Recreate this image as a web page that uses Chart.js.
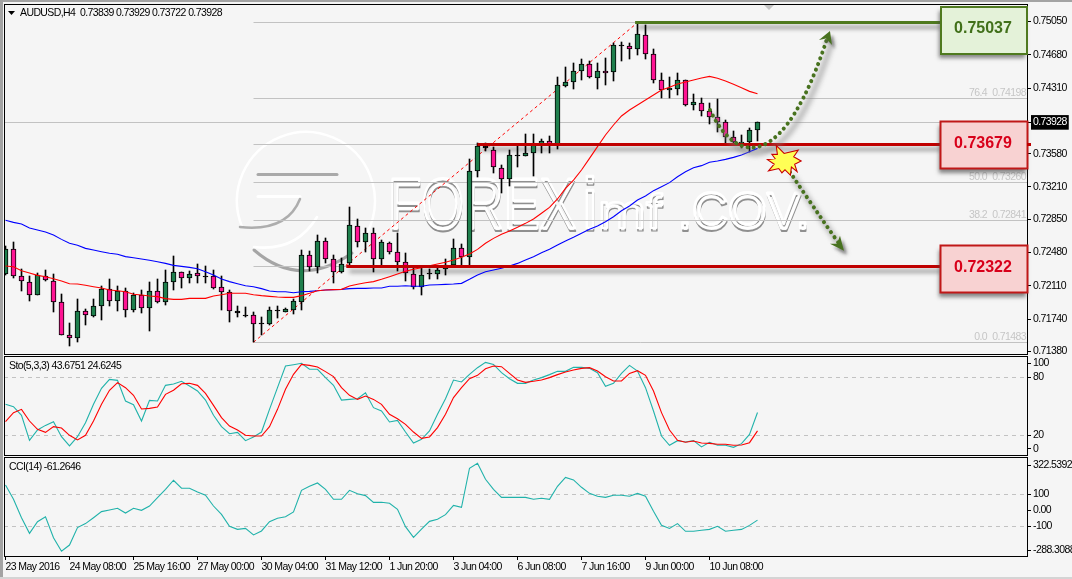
<!DOCTYPE html>
<html><head><meta charset="utf-8">
<style>
html,body{margin:0;padding:0;background:#f5f5f5;width:1072px;height:579px;overflow:hidden}
#w{position:relative;width:1072px;height:579px}
canvas{position:absolute;left:0;top:0}
#el{position:absolute;left:0;top:0;width:3px;height:579px;background:#a3a3a3}
#et{position:absolute;left:0;top:0;width:1072px;height:2px;background:#a3a3a3}
#eb{position:absolute;left:0;top:577px;width:1072px;height:2px;background:#d4d4d4}
</style>
<script src="https://cdn.jsdelivr.net/npm/chart.js@4"></script>
</head><body><div id="w"><div id="el"></div><div id="et"></div><div id="eb"></div>
<canvas id="c1" width="1072" height="579"></canvas>
<canvas id="c2" width="1072" height="579"></canvas>
<canvas id="c3" width="1072" height="579"></canvas>
</div>
<script>
const symbol = 'AUDUSD,H4';
const opens = [.72238,.72516,.72216,.72157,.72012,.72223,.72168,.71927,.71560,.71526,
.71827,.71778,.71882,.72071,.71938,.72049,.71838,.72005,.71860,.72049,
.71931,.72149,.72260,.72194,.72249,.72220,.72216,.72094,.72038,.71812,
.71786,.71782,.71686,.71690,.71827,.71823,.71845,.71934,.72449,.72323,
.72605,.72405,.72268,.72360,.72772,.72594,.72702,.72405,.72590,.72483,
.72379,.72246,.72094,.72238,.72246,.72294,.72346,.72527,.72427,.73384,
.73662,.73617,.73424,.73295,.73550,.73558,.73584,.73684,.73717,.73684,
.74336,.74373,.74503,.74574,.74425,.74496,.74485,.74777,.74774,.74740,
.74896,.74685,.74396,.74284,.74296,.74396,.74125,.74140,.74051,.73984,
.73936,.73762,.73695,.73714,.73839];
const highs = [.72553,.72594,.72294,.72220,.72249,.72283,.72238,.72019,.71697,.71964,
.71853,.71960,.72108,.72186,.72108,.72082,.72027,.72064,.72149,.72186,
.72283,.72442,.72268,.72275,.72353,.72331,.72283,.72223,.72064,.71886,
.71875,.71819,.71767,.71871,.71886,.71860,.71968,.72509,.72498,.72676,
.72638,.72449,.72416,.72987,.72853,.72750,.72750,.72620,.72594,.72702,
.72472,.72323,.72305,.72294,.72323,.72405,.72631,.72572,.73521,.73695,
.73695,.73654,.73454,.73621,.73665,.73795,.73795,.73739,.73777,.74429,
.74544,.74588,.74629,.74611,.74592,.74644,.74807,.74818,.74807,.75037,
.75011,.74740,.74477,.74429,.74473,.74399,.74244,.74199,.74140,.74188,
.73954,.73832,.73788,.73862,.73929];
const lows = [.72227,.72194,.72056,.71945,.72005,.72164,.71823,.71560,.71445,.71489,
.71675,.71767,.71730,.71886,.71830,.71767,.71823,.71812,.71612,.71916,
.71901,.72064,.72086,.72142,.72142,.72142,.72079,.71842,.71712,.71767,
.71767,.71483,.71564,.71675,.71749,.71816,.71797,.71842,.72275,.72257,
.72360,.72145,.72249,.72323,.72546,.72490,.72268,.72342,.72464,.72279,
.72164,.72071,.72012,.72186,.72183,.72231,.72323,.72331,.72342,.73317,
.73613,.73369,.73146,.73224,.73435,.73558,.73335,.73591,.73591,.73628,
.74325,.74303,.74399,.74425,.74303,.74344,.74388,.74614,.74633,.74677,
.74633,.74362,.74203,.74203,.74233,.74114,.74066,.73999,.73910,.73825,
.73695,.73695,.73639,.73595,.73722];
const closes = [.72516,.72216,.72160,.72005,.72234,.72171,.71927,.71560,.71526,.71827,
.71782,.71882,.72075,.71938,.72049,.71838,.72008,.71860,.72049,.71931,
.72149,.72260,.72194,.72238,.72216,.72216,.72082,.72038,.71827,.71827,
.71778,.71682,.71693,.71838,.71838,.71849,.71938,.72449,.72323,.72605,
.72405,.72268,.72349,.72783,.72594,.72702,.72405,.72594,.72483,.72379,
.72249,.72094,.72234,.72249,.72290,.72346,.72527,.72427,.73384,.73662,
.73647,.73428,.73295,.73562,.73562,.73591,.73684,.73717,.73684,.74340,
.74373,.74496,.74574,.74429,.74496,.74473,.74785,.74785,.74740,.74907,
.74685,.74396,.74292,.74307,.74396,.74125,.74151,.74051,.73984,.73936,
.73762,.73714,.73714,.73840,.73928];
const maSlow = [.72839,.72816,.72798,.72753,.72731,.72709,.72676,.72627,.72583,.72561,
.72527,.72509,.72490,.72472,.72461,.72435,.72423,.72409,.72394,.72379,
.72360,.72338,.72327,.72316,.72301,.72268,.72231,.72186,.72157,.72134,
.72112,.72101,.72079,.72053,.72045,.72045,.72034,.72045,.72049,.72056,
.72064,.72068,.72071,.72079,.72082,.72082,.72086,.72086,.72105,.72105,
.72112,.72105,.72105,.72120,.72123,.72127,.72131,.72138,.72183,.72231,
.72268,.72286,.72305,.72331,.72360,.72398,.72435,.72479,.72516,.72564,
.72609,.72650,.72694,.72739,.72776,.72824,.72879,.72946,.72998,.73065,
.73109,.73169,.73213,.73258,.73324,.73380,.73424,.73447,.73484,.73499,
.73517,.73539,.73565,.73602,.73639];
const maFast = [.72331,.72323,.72279,.72253,.72227,.72212,.72190,.72164,.72134,.72131,
.72116,.72101,.72086,.72064,.72056,.72045,.72016,.72008,.71997,.71990,
.71968,.71960,.71960,.71971,.71971,.71971,.71997,.72012,.72027,.72027,
.72027,.72012,.72001,.71993,.71986,.71982,.71982,.72001,.72027,.72056,
.72064,.72068,.72071,.72108,.72127,.72145,.72157,.72183,.72212,.72242,
.72272,.72294,.72312,.72334,.72353,.72372,.72397,.72427,.72464,.72516,
.72583,.72638,.72683,.72720,.72761,.72805,.72853,.72917,.72983,.73076,
.73195,.73287,.73398,.73528,.73658,.73788,.73899,.73999,.74066,.74121,
.74177,.74233,.74288,.74318,.74355,.74377,.74399,.74422,.74440,.74418,
.74388,.74351,.74314,.74273,.74247];
const stoK = [52.1,49.7,40.7,14.8,25.5,30.3,34.1,18.6,9.0,18.6,
33.1,52.1,68.6,77.9,76.9,55.5,51.7,34.8,56.2,55.5,
71.7,73.1,75.9,71.0,65.9,56.5,40.7,29.0,21.7,23.1,
14.5,18.3,23.4,46.9,69.3,91.7,93.1,94.5,88.3,88.3,
79.7,71.7,56.5,57.2,57.9,64.1,48.6,45.2,33.8,35.5,
23.4,12.1,15.9,24.5,41.7,57.9,77.2,75.2,83.1,90.0,
95.5,93.4,84.8,78.6,73.8,73.8,77.2,79.7,82.8,86.2,
86.2,90.3,90.3,89.3,84.8,70.7,73.8,84.1,92.4,86.5,
69.3,45.2,19.3,9.7,14.5,13.1,14.5,8.0,12.8,9.7,
9.7,7.6,11.4,21.0,43.6751];
const stoD = [34.1,43.5,46.9,34.8,26.2,23.1,29.0,27.6,20.0,15.2,
20.0,34.8,52.1,66.6,74.5,69.3,61.4,47.2,47.9,49.3,
62.4,66.6,73.4,73.8,71.7,63.4,51.0,38.3,29.6,25.5,
20.0,19.3,19.3,29.0,46.9,67.6,83.1,93.4,92.4,90.7,
85.9,80.7,69.3,61.4,57.2,60.7,57.2,52.1,41.7,37.2,
31.4,23.4,16.9,18.3,28.0,41.7,59.0,69.3,78.6,82.1,
88.9,91.7,91.0,84.1,77.2,74.8,75.9,77.2,79.7,82.8,
85.5,87.6,89.3,90.0,86.5,80.7,76.2,76.2,84.1,86.9,
82.1,65.9,43.5,25.5,14.8,12.8,14.1,12.1,11.7,10.7,
10.7,9.7,10.0,12.4,24.6245];
const cciValues = [158,69,-46,-144,-71,-40,-171,-256,-217,-108,
-83,-46,-8,2,13,-17,13,0,27,79,
131,188,138,138,115,94,27,-25,-100,-119,
-113,-154,-129,-71,-50,-40,-10,125,150,171,
131,69,69,125,104,92,50,50,44,6,
-102,-169,-117,-69,-56,-27,31,19,263,294,
194,131,81,81,81,81,69,75,69,150,
206,190,144,106,88,81,94,94,88,106,
88,-6,-94,-113,-83,-131,-131,-125,-119,-100,
-131,-125,-119,-94,-61.2646];
const timeIndex = [0,8,16,24,32,40,48,56,64,72,80,88];
const timeLabels = ['23 May 2016','24 May 08:00','25 May 16:00','27 May 00:00','30 May 04:00','31 May 12:00','1 Jun 20:00','3 Jun 04:00','6 Jun 08:00','7 Jun 16:00','9 Jun 00:00','10 Jun 08:00'];
const priceTicks = [.7505,.7468,.7431,.7358,.7321,.7285,.7248,.7211,.7174,.7138];
const bid = .73928;
const fibLevels = [.75037,.74198,.73679,.7326,.72841,.72322,.71483];
const fibStart = 31, fibEnd = 79;
const fibNotes = [['76.4','0.74198',.74198],['50.0','0.73260',.7326],['38.2','0.72841',.72841],['0.0','0.71483',.71483]];
const targetTop = .75037, levelMid = .73679, levelLow = .72322;
const stoTickPos = [94.4,80,20,6], stoTickText = ['100','80','20','0'];
const cciTickPos = [283,100,0,-100,-248], cciTickText = ['322.5392','100','0.00','-100','-288.3088'];

const FONT = "'Liberation Sans', Arial, sans-serif";
const FS = 10.5, SPACING = '-0.6px';
const XMIN = -0.1875, XMAX = 127.8125;
Chart.defaults.animation = false;
Chart.defaults.font.family = FONT;
Chart.defaults.font.size = FS;
Chart.defaults.color = '#000';

const series = a => a.map((v,i)=>({x:i,y:v}));
const hline = (y,a,b,col,w,extra) => Object.assign({type:'line',data:[{x:a,y},{x:b,y}],borderColor:col,borderWidth:w,pointRadius:0,snap:true,fill:false,animation:false},extra||{});
const curve = (arr,col,w,order) => ({type:'line',data:series(arr),borderColor:col,borderWidth:w||1,pointRadius:0,tension:0,fill:false,order:order});

const tightText = {id:'tightText',beforeLayout(chart){chart.ctx.letterSpacing=SPACING;},beforeDraw(chart){chart.ctx.letterSpacing=SPACING;}};
const snapPlugin = {id:'snap',afterDatasetsUpdate(chart){
  chart.getSortedVisibleDatasetMetas().forEach(m=>{
    const ds = chart.data.datasets[m.index];
    if(m.type==='bar'){ m.data.forEach(el=>{
      let y=Math.round(el.y), b=Math.round(el.base);
      if(b===y) b=y+1;
      el.y=y; el.base=b; el.height=b-y;
    }); }
    else if(ds.snap){ m.data.forEach(el=>{ el.y=Math.floor(el.y)+.5; }); }
  });
}};
const framePlugin = {id:'frame',afterDraw(chart){
  const {ctx,chartArea:a}=chart; ctx.save(); ctx.strokeStyle='#000'; ctx.lineWidth=1;
  ctx.strokeRect(a.left+.5,a.top+.5,a.right-a.left-1,a.bottom-a.top-1);
  ctx.restore();
}};
function caption(chart,str,x,y){const c=chart.ctx;c.save();c.font=FS+'px '+FONT;c.fillStyle='#000';c.textBaseline='middle';c.fillText(str,x,y);c.restore();}

function embossText(c,str,x,y,size,sx,lw){
  c.save(); c.letterSpacing='0px'; c.translate(x,y); c.scale(sx,1); c.font=size+'px '+FONT; c.lineJoin='round';
  c.lineWidth=lw; c.strokeStyle='rgba(125,125,125,.85)'; c.filter='blur(.7px)'; c.strokeText(str,.6,2.6);
  c.filter='none'; c.lineWidth=lw+1; c.strokeStyle='#fff'; c.strokeText(str,0,0);
  c.restore();
}
const watermark = {id:'watermark',beforeDatasetsDraw(chart){
  const c=chart.ctx; c.save();
  c.lineCap='round';
  c.strokeStyle='#fff'; c.lineWidth=2.5;
  c.beginPath(); c.arc(306,201,69,Math.PI*.88,Math.PI*.2); c.stroke();
  c.strokeStyle='#a9a9a9'; c.lineWidth=3; c.beginPath(); c.moveTo(258,174.5); c.lineTo(337,174.5); c.stroke();
  c.strokeStyle='#fff'; c.lineWidth=3; c.beginPath(); c.moveTo(258,196.5); c.lineTo(300,196.5); c.stroke();
  c.filter='blur(.7px)';
  c.strokeStyle='#adadad'; c.lineWidth=2.5; c.beginPath(); c.moveTo(240,227); c.quadraticCurveTo(287,232,300,199); c.stroke();
  c.strokeStyle='#a5a5a5'; c.lineWidth=3; c.beginPath(); c.moveTo(254,250); c.quadraticCurveTo(300,290,352,253); c.stroke();
  c.filter='none';
  c.strokeStyle='#fff'; c.lineWidth=2.5; c.beginPath(); c.moveTo(254,247); c.quadraticCurveTo(296,252,317,217); c.stroke();
  c.restore();
  embossText(c,'FOREX',388,228,71,.77,1.8);
  embossText(c,'i',582,228,72,1,1.4);
  embossText(c,'mf',598,228,48,1.2,1.2);
  embossText(c,'.COV.',678,228,50,1,1.8);
}};
const arrowUp = {p0:[88.06,.74066],c1:[91.56,.73421],c2:[97.44,.73398],p3:[102.8,.74889],tip:[103.06,.74944]};
const arrowDn = {p0:[98.06,.73376],c1:[100.8,.73009],p3:[104.31,.72564],tip:[104.81,.72501]};
const starAt = [97.31,.73499];
const levelShadow = {id:'levelShadow',beforeDatasetsDraw(chart){
  const s=chart.scales,c=chart.ctx; const X=v=>s.x.getPixelForValue(v),Y=v=>s.y.getPixelForValue(v);
  c.save(); c.filter='blur(2px)'; c.strokeStyle='rgba(110,110,110,.75)'; c.lineWidth=3;
  [[targetTop,78.7],[levelMid,59],[levelLow,42.6]].forEach(([p,i])=>{c.beginPath();c.moveTo(X(i)+3,Y(p)+4.5);c.lineTo(X(116.9),Y(p)+4.5);c.stroke();});
  c.restore();
}};
const overlay = {id:'overlay',afterDraw(chart){
  const s=chart.scales,c=chart.ctx; const X=v=>s.x.getPixelForValue(v),Y=v=>s.y.getPixelForValue(v);
  c.save(); c.fillStyle='#000'; c.beginPath(); c.moveTo(8,11); c.lineTo(15,11); c.lineTo(11.5,15); c.closePath(); c.fill(); c.restore();
  const last=opens.length-1;
  caption(chart,symbol+'  '+[opens[last],highs[last],lows[last],closes[last]].map(v=>v.toFixed(5)).join(' '),20,13);
  c.save(); c.fillStyle='#c4c4c4'; c.beginPath(); c.moveTo(764,5); c.lineTo(774,5); c.lineTo(769,10); c.closePath(); c.fill(); c.restore();
  c.save(); c.font=FS+'px '+FONT; c.fillStyle='#c6c6c6'; c.textAlign='right'; c.textBaseline='middle';
  fibNotes.forEach(([a,b,p])=>{const y=Y(p)-5.5; c.fillText(b,1026,y); c.fillText(a,987,y);});
  c.restore();
  const dotted=(draw)=>{
    c.save(); c.filter='blur(2.5px)'; c.strokeStyle='rgba(130,130,130,.55)'; c.lineWidth=5; c.lineCap='round';
    c.translate(4,6); draw(); c.stroke(); c.restore();
    c.save(); c.strokeStyle='#48721f'; c.lineWidth=4; c.lineCap='round'; c.setLineDash([.1,6]); draw(); c.stroke(); c.restore();
  };
  dotted(()=>{c.beginPath();c.moveTo(X(arrowUp.p0[0]),Y(arrowUp.p0[1]));c.bezierCurveTo(X(arrowUp.c1[0]),Y(arrowUp.c1[1]),X(arrowUp.c2[0]),Y(arrowUp.c2[1]),X(arrowUp.p3[0]),Y(arrowUp.p3[1]));});
  dotted(()=>{c.beginPath();c.moveTo(X(arrowDn.p0[0]),Y(arrowDn.p0[1]));c.quadraticCurveTo(X(arrowDn.c1[0]),Y(arrowDn.c1[1]),X(arrowDn.p3[0]),Y(arrowDn.p3[1]));});
  const head=(tip,pts)=>{const tx=X(tip[0]),ty=Y(tip[1]);
    c.save(); c.shadowColor='rgba(90,90,90,.6)'; c.shadowBlur=3; c.shadowOffsetX=3; c.shadowOffsetY=4; c.fillStyle='#48721f';
    c.beginPath(); c.moveTo(tx,ty); pts.forEach(q=>c.lineTo(tx+q[0],ty+q[1])); c.closePath(); c.fill(); c.restore();};
  head(arrowUp.tip,[[-11,9],[-4,7.5],[2,14]]);
  head(arrowDn.tip,[[-14,-7],[-7,-7],[-4,-15]]);
  const sx=X(starAt[0]), sy=Y(starAt[1]);
  const star=[[-7,-14],[0,-7],[13,-10],[9,-4],[16,0],[10,3],[12,9],[7,5],[6,13],[1,8],[-2,11],[-5,7],[-14,9],[-9,3],[-15,-1],[-8,-2],[-11,-6],[-6,-6]];
  c.save(); c.fillStyle='#ffff55'; c.strokeStyle='#c80000'; c.lineWidth=2.2; c.lineJoin='miter';
  c.beginPath(); star.forEach((q,i)=>i?c.lineTo(sx+q[0],sy+q[1]):c.moveTo(sx+q[0],sy+q[1])); c.closePath(); c.stroke(); c.fill(); c.restore();
  const boxes=[[941,7,86,47,'#e4f2d9','#4f7a1f','#41701a',targetTop],[940.5,121.5,87,47,'#f8d2d2','#c01818','#d8001a',levelMid],[940.5,245.5,87,47,'#f8d2d2','#c01818','#d8001a',levelLow]];
  boxes.forEach(([x,y,w,h,f,b,t,v])=>{
    c.save(); c.letterSpacing='0px'; c.shadowColor='rgba(70,70,70,.65)'; c.shadowBlur=4; c.shadowOffsetX=-2; c.shadowOffsetY=4;
    c.fillStyle=f; c.fillRect(x,y,w,h); c.shadowColor='transparent';
    c.strokeStyle=b; c.lineWidth=2; c.strokeRect(x,y,w,h);
    c.fillStyle=t; c.font='bold 16px '+FONT; c.textAlign='center'; c.textBaseline='middle';
    c.fillText(v.toFixed(5),x+w/2-1,y+h/2-1.5); c.restore();
  });
  c.save(); c.fillStyle='#c00000'; c.fillRect(1027,Math.floor(Y(levelMid))-1,4,3); c.restore();
}};

function xAxis(show){
  return {type:'linear',min:XMIN,max:XMAX,offset:false,display:show,
    afterBuildTicks:s=>{s.ticks=timeIndex.map(v=>({value:v}));},
    afterFit:s=>{s.height=show?20:0;s.paddingLeft=0;s.paddingRight=0;},
    border:{display:false},
    grid:{drawOnChartArea:false,drawTicks:true,tickLength:3,color:'#000',offset:false},
    ticks:{autoSkip:false,maxRotation:0,minRotation:0,align:'start',padding:1,color:'#000',callback:v=>timeLabels[timeIndex.indexOf(v)]}};
}
function yAxis(min,max,vals,cb,extra){
  return {type:'linear',position:'right',min,max,
    afterBuildTicks:s=>{s.ticks=vals.map(v=>({value:v}));},
    afterFit:s=>{s.width=44;s.paddingTop=0;s.paddingBottom=0;},
    border:{display:false},
    grid:{drawOnChartArea:false,drawTicks:true,tickLength:3,color:'#000'},
    ticks:Object.assign({autoSkip:false,padding:2,callback:cb},extra||{})};
}
const baseOpts=(top,bottomPad)=>({responsive:false,maintainAspectRatio:false,animation:false,
  layout:{padding:{left:4,top,right:0,bottom:bottomPad}},
  plugins:{legend:{display:false},tooltip:{enabled:false},title:{display:false}},
  events:[]});

const wickData = series(lows).map((d,i)=>({x:i,y:[lows[i],highs[i]]}));
const bodyData = opens.map((o,i)=>({x:i,y:[Math.min(o,closes[i]),Math.max(o,closes[i])]}));
const bodyColors = opens.map((o,i)=> Math.abs(o-closes[i])<.00016 ? '#000' : (closes[i]>=o ? '#1f7f4d' : '#ff1493'));
const trend = [{x:fibStart,y:lows[fibStart]},{x:fibEnd,y:highs[fibEnd]}];

new Chart(document.getElementById('c1'),{type:'line',
  data:{datasets:[
    ...fibLevels.map(p=>hline(p,fibStart,XMAX,'#c2c2c2',1,{order:20})),
    hline(bid,XMIN,XMAX,'#c2c2c2',1,{order:19}),
    {type:'line',data:trend,borderColor:'#ff0000',borderWidth:1,borderDash:[3,3],pointRadius:0,order:12},
    {type:'bar',data:wickData,backgroundColor:'#000',barThickness:1,grouped:false,order:10,borderWidth:0},
    {type:'bar',data:bodyData,backgroundColor:bodyColors,borderColor:'#000',borderWidth:1,borderSkipped:false,barThickness:5,grouped:false,order:9},
    curve(maSlow,'#0000ff',1.1,6),
    curve(maFast,'#ff0000',1.1,5),
    hline(targetTop,78.7,116.9,'#4f7a1f',3,{order:2}),
    hline(levelMid,59,116.9,'#c00000',3,{order:2}),
    hline(levelLow,42.6,116.9,'#c00000',3,{order:2})
  ]},
  options:Object.assign(baseOpts(4,224),{scales:{
    x:xAxis(false),
    y:yAxis(.713411,.752446,[...priceTicks,bid].sort((a,b)=>b-a),v=>v.toFixed(5),{
      color:c=>c.tick&&c.tick.value===bid?'#fff':'#000',
      showLabelBackdrop:c=>!!(c.tick&&c.tick.value===bid),
      backdropColor:'#000',backdropPadding:{x:2,y:1}})
  }}),
  plugins:[tightText,snapPlugin,watermark,levelShadow,framePlugin,overlay]
});

new Chart(document.getElementById('c2'),{type:'line',
  data:{datasets:[
    hline(80,XMIN,XMAX,'#c2c2c2',1,{borderDash:[4,4],order:9}),
    hline(20,XMIN,XMAX,'#c2c2c2',1,{borderDash:[4,4],order:9}),
    curve(stoK,'#20b2aa',1.1,3),
    curve(stoD,'#ff0000',1.1,2)
  ]},
  options:Object.assign(baseOpts(356,123),{scales:{
    x:xAxis(false),
    y:yAxis(-1.38,102.07,stoTickPos,v=>stoTickText[stoTickPos.indexOf(v)])
  }}),
  plugins:[tightText,snapPlugin,framePlugin,{id:'cap',afterDraw(ch){caption(ch,'Sto(5,3,3) '+stoK[stoK.length-1]+' '+stoD[stoD.length-1],9,366.5);}}]
});

new Chart(document.getElementById('c3'),{type:'line',
  data:{datasets:[
    hline(100,XMIN,XMAX,'#c2c2c2',1,{borderDash:[4,4],order:9}),
    hline(-100,XMIN,XMAX,'#c2c2c2',1,{borderDash:[4,4],order:9}),
    curve(cciValues,'#20b2aa',1.1,3)
  ]},
  options:Object.assign(baseOpts(457,2),{scales:{
    x:xAxis(true),
    y:yAxis(-291.7,333.3,cciTickPos,v=>cciTickText[cciTickPos.indexOf(v)])
  }}),
  plugins:[tightText,snapPlugin,framePlugin,{id:'cap',afterDraw(ch){caption(ch,'CCI(14) '+cciValues[cciValues.length-1],9,467);}}]
});
</script></body></html>
